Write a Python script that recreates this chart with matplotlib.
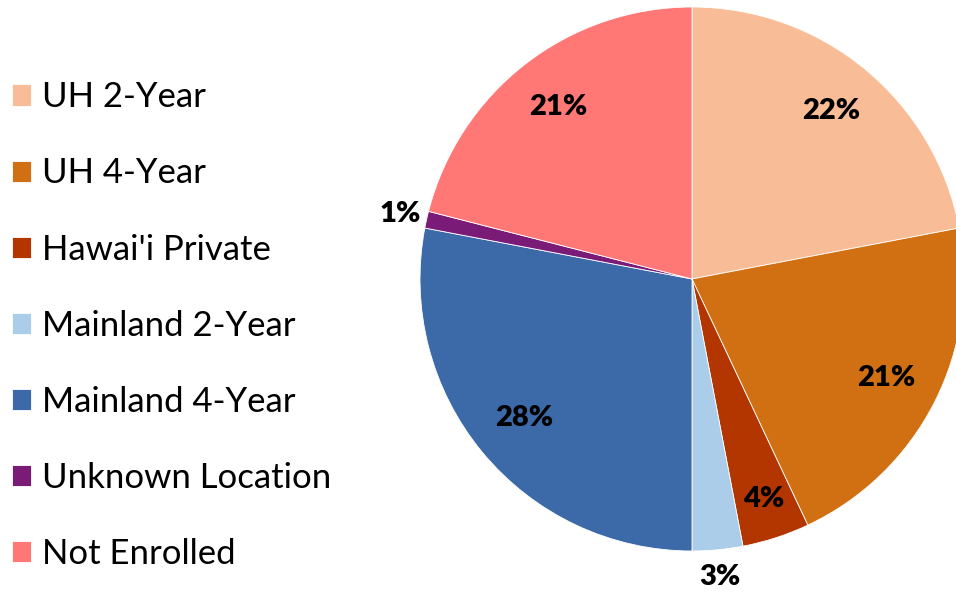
import matplotlib.pyplot as plt

# share of graduates by post-high-school destination (%)
labels = ['UH 2-Year', 'UH 4-Year', "Hawai'i Private", 'Mainland 2-Year',
          'Mainland 4-Year', 'Unknown Location', 'Not Enrolled']
values = [22, 21, 4, 3, 28, 1, 21]
colors = ['#F8BD96', '#D07012', '#B33500', '#ABCDEA', '#3C69A8', '#7A1B78', '#FF7875']

plt.rcParams['font.family'] = ['Lato', 'DejaVu Sans']

W, H = 956, 592
fig = plt.figure(figsize=(W / 100, H / 100), dpi=100)

# pie centre / radius in pixels
cx, cy, r = 692, 279, 272
k = 1.25
ax = fig.add_axes([(cx - r * k) / W, 1 - (cy + r * k) / H, 2 * r * k / W, 2 * r * k / H])
ax.set_xlim(-k, k)
ax.set_ylim(-k, k)
ax.set_aspect('equal')
ax.axis('off')

wedges, texts, autotexts = ax.pie(
    values, colors=colors, startangle=90, counterclock=False,
    autopct='%d%%', pctdistance=0.80, radius=1,
    wedgeprops=dict(edgecolor='white', linewidth=0.6),
    textprops=dict(fontsize=21, fontweight='heavy', color='black'))

# small slices get their labels pushed outside the pie
for i, t in enumerate(autotexts):
    x, y = t.get_position()
    if values[i] == 4:
        t.set_position((x * 0.85 / 0.80, y * 0.85 / 0.80))
    elif values[i] <= 3:
        t.set_position((x * 1.10 / 0.80, y * 1.10 / 0.80))

fig.legend(wedges, labels, loc='center left', bbox_to_anchor=(12 / W, 0.45),
           frameon=False, fontsize=25, handlelength=0.56, handleheight=0.56,
           handletextpad=0.3, labelspacing=1.27, borderpad=0, borderaxespad=0)

fig.savefig('out.png', dpi=100)
